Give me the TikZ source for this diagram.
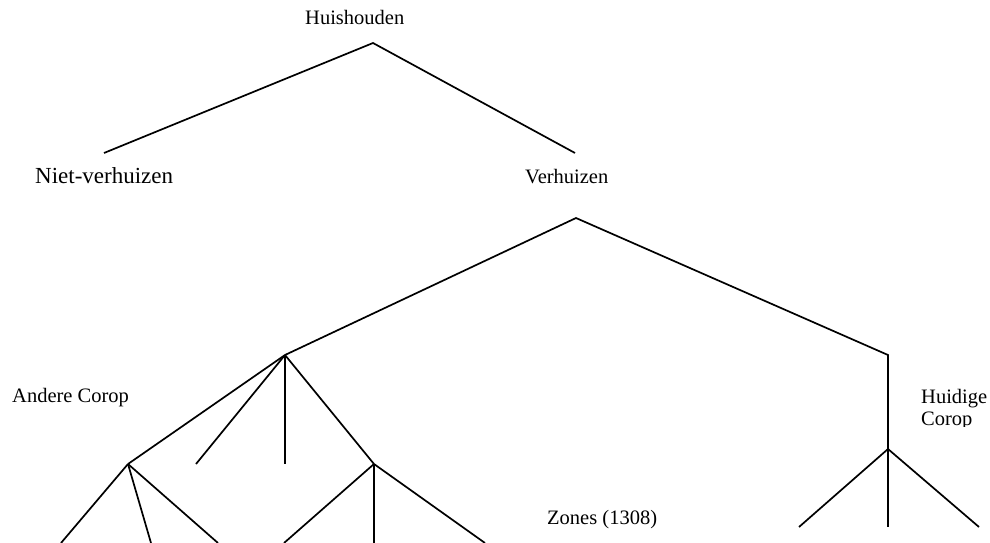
\documentclass[tikz,border=0pt]{standalone}
\usepackage{fontspec}
\setmainfont{Liberation Serif}
\begin{document}
\begin{tikzpicture}[x=1pt,y=-1pt,
  branch/.style={line width=1.7pt, line join=miter},
  lbl/.style={anchor=base west, inner sep=0pt, font=\fontsize{20.5}{24}\selectfont},
  biglbl/.style={lbl, font=\fontsize{23}{27}\selectfont}]
\useasboundingbox (0,0) rectangle (990,543);

% labels
\node[lbl]    (hh)  at (305,25)  {Huishouden};
\node[biglbl] (nv)  at (35,183)  {Niet-verhuizen};
\node[lbl]    (vh)  at (525,183) {Verhuizen};
\node[lbl]    (ac)  at (12,402)  {Andere Corop};
\node[lbl]    (zn)  at (547,524) {Zones (1308)};
\begin{scope}
  \clip (900,380) rectangle (990,426);
  \node[lbl] (hc1) at (921,403) {Huidige};
  \node[lbl] (hc2) at (921,425) {Corop};
\end{scope}

% branch points
\coordinate (top)  at (373,43);
\coordinate (nvE)  at (104,153);
\coordinate (vhE)  at (575,153);
\coordinate (vtop) at (576,218);
\coordinate (L)    at (285,355);
\coordinate (Rc)   at (888,355);
\coordinate (R)    at (888,449);
\coordinate (LL)   at (128,464);
\coordinate (LR)   at (374,464);
\coordinate (Ls)   at (196,464);
\coordinate (Lm)   at (285,464);

% leaves
\coordinate (a1) at (61,543);
\coordinate (a2) at (151,543);
\coordinate (a3) at (218,543);
\coordinate (b1) at (284,543);
\coordinate (b2) at (374,543);
\coordinate (b3) at (485,543);
\coordinate (c1) at (799,527);
\coordinate (c2) at (888,527);
\coordinate (c3) at (979,527);

% first split
\draw[branch] (nvE) -- (top) -- (vhE);

% second split
\draw[branch] (L) -- (vtop) -- (Rc) -- (R);

% other Corop
\draw[branch] (L) -- (LL);
\draw[branch] (L) -- (Ls);
\draw[branch] (L) -- (Lm);
\draw[branch] (L) -- (LR);
\draw[branch] (LL) -- (a1);
\draw[branch] (LL) -- (a2);
\draw[branch] (LL) -- (a3);
\draw[branch] (LR) -- (b1);
\draw[branch] (LR) -- (b2);
\draw[branch] (LR) -- (b3);

% current Corop
\draw[branch] (R) -- (c1);
\draw[branch] (R) -- (c2);
\draw[branch] (R) -- (c3);
\end{tikzpicture}
\end{document}
